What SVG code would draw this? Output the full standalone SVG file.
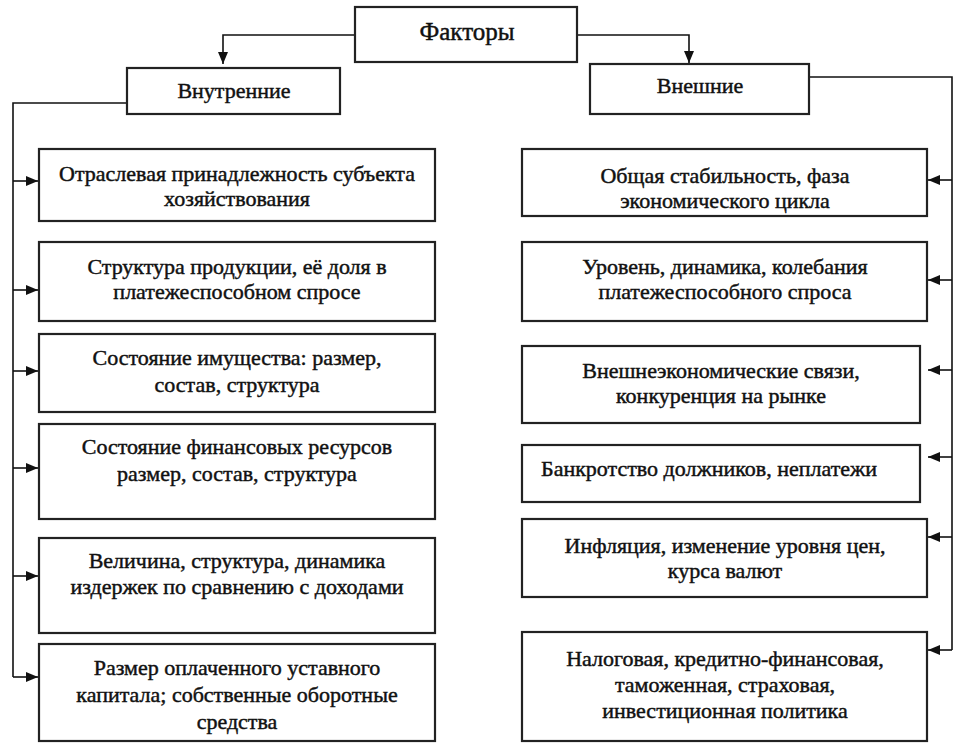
<svg xmlns="http://www.w3.org/2000/svg" width="957" height="752" viewBox="0 0 957 752">
<defs>
<marker id="arr" viewBox="0 0 12 10" refX="12" refY="5" markerWidth="12" markerHeight="10" markerUnits="userSpaceOnUse" orient="auto">
<path d="M0,0 L12,5 L0,10 Z" fill="#111"/>
</marker>
<style>
.box{fill:#fff;stroke:#222;stroke-width:2.2}
.t{font-family:"Liberation Serif","Times New Roman",serif;font-size:22px;fill:#111;text-anchor:middle;stroke:#111;stroke-width:0.45}
.h{font-size:25px}
.c{fill:none;stroke:#111;stroke-width:1.6}
</style>
</defs>
<rect width="957" height="752" fill="#fff"/>
<g id="connectors">
<path class="c" d="M355,35 H223 V64" marker-end="url(#arr)"/>
<path class="c" d="M577,35 H689 V63" marker-end="url(#arr)"/>
<path class="c" d="M127,103 H13 V677"/>
<path class="c" d="M13,181 H38" marker-end="url(#arr)"/>
<path class="c" d="M13,290 H38" marker-end="url(#arr)"/>
<path class="c" d="M13,371 H38" marker-end="url(#arr)"/>
<path class="c" d="M13,468 H38" marker-end="url(#arr)"/>
<path class="c" d="M13,576 H38" marker-end="url(#arr)"/>
<path class="c" d="M13,677 H38" marker-end="url(#arr)"/>
<path class="c" d="M809,77 H952 V650"/>
<path class="c" d="M952,180 H928" marker-end="url(#arr)"/>
<path class="c" d="M952,280 H928" marker-end="url(#arr)"/>
<path class="c" d="M952,370 H928" marker-end="url(#arr)"/>
<path class="c" d="M952,457 H928" marker-end="url(#arr)"/>
<path class="c" d="M952,537 H928" marker-end="url(#arr)"/>
<path class="c" d="M952,650 H928" marker-end="url(#arr)"/>
</g>
<g id="factors">
<rect class="box" x="355" y="7" width="222" height="55"/>
<text class="t h" x="467" y="40">Факторы</text>
</g>
<g id="internal">
<rect class="box" x="127" y="68" width="213" height="46"/>
<text class="t" x="234" y="98">Внутренние</text>
</g>
<g id="external">
<rect class="box" x="590" y="64" width="219" height="50"/>
<text class="t" x="700" y="93">Внешние</text>
</g>
<g id="in1">
<rect class="box" x="39" y="149" width="396" height="72"/>
<text class="t" x="237" y="181">Отраслевая принадлежность субъекта</text>
<text class="t" x="237" y="206">хозяйствования</text>
</g>
<g id="in2">
<rect class="box" x="39" y="242" width="396" height="79"/>
<text class="t" x="237" y="274">Структура продукции, её доля в</text>
<text class="t" x="237" y="299">платежеспособном спросе</text>
</g>
<g id="in3">
<rect class="box" x="39" y="334" width="396" height="78"/>
<text class="t" x="237" y="365">Состояние имущества: размер,</text>
<text class="t" x="237" y="392">состав, структура</text>
</g>
<g id="in4">
<rect class="box" x="39" y="424" width="396" height="95"/>
<text class="t" x="237" y="454">Состояние финансовых ресурсов</text>
<text class="t" x="237" y="481">размер, состав, структура</text>
</g>
<g id="in5">
<rect class="box" x="39" y="538" width="396" height="95"/>
<text class="t" x="237" y="568">Величина, структура, динамика</text>
<text class="t" x="237" y="594">издержек по сравнению с доходами</text>
</g>
<g id="in6">
<rect class="box" x="39" y="644" width="396" height="97"/>
<text class="t" x="237" y="675">Размер оплаченного уставного</text>
<text class="t" x="237" y="702">капитала; собственные оборотные</text>
<text class="t" x="237" y="729">средства</text>
</g>
<g id="ex1">
<rect class="box" x="522" y="149" width="405" height="67"/>
<text class="t" x="725" y="183">Общая стабильность, фаза</text>
<text class="t" x="725" y="208">экономического цикла</text>
</g>
<g id="ex2">
<rect class="box" x="522" y="242" width="405" height="79"/>
<text class="t" x="725" y="274">Уровень, динамика, колебания</text>
<text class="t" x="725" y="299">платежеспособного спроса</text>
</g>
<g id="ex3">
<rect class="box" x="522" y="346" width="398" height="77"/>
<text class="t" x="721" y="378">Внешнеэкономические связи,</text>
<text class="t" x="721" y="403">конкуренция на рынке</text>
</g>
<g id="ex4">
<rect class="box" x="522" y="445" width="398" height="57"/>
<text class="t" x="709" y="476">Банкротство должников, неплатежи</text>
</g>
<g id="ex5">
<rect class="box" x="522" y="519" width="405" height="78"/>
<text class="t" x="725" y="553">Инфляция, изменение уровня цен,</text>
<text class="t" x="725" y="578">курса валют</text>
</g>
<g id="ex6">
<rect class="box" x="522" y="632" width="405" height="109"/>
<text class="t" x="725" y="666">Налоговая, кредитно-финансовая,</text>
<text class="t" x="725" y="692">таможенная, страховая,</text>
<text class="t" x="725" y="718">инвестиционная политика</text>
</g>
</svg>
